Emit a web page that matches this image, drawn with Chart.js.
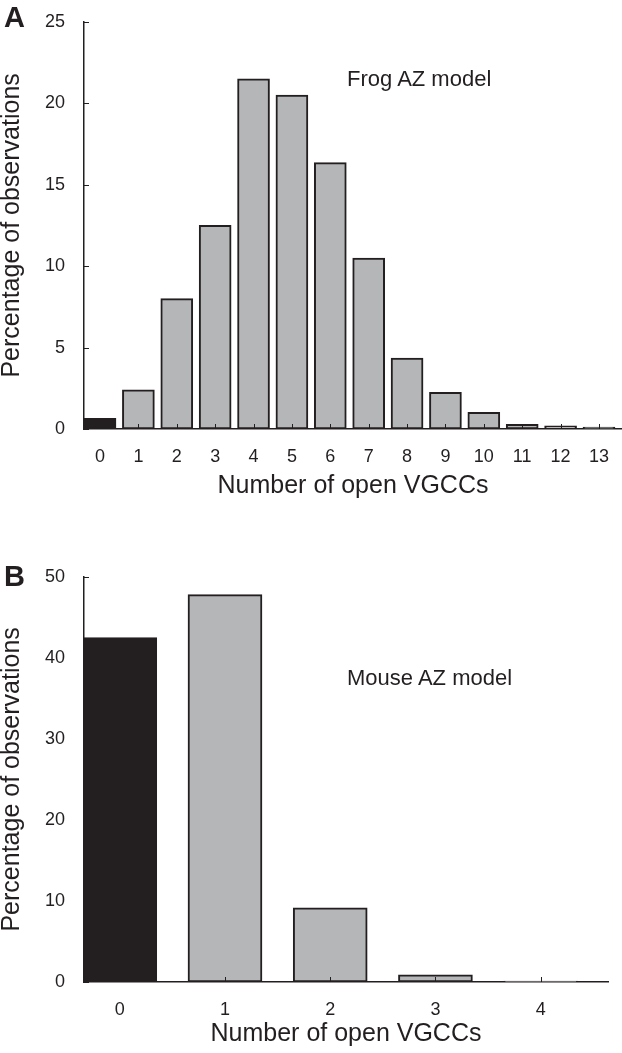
<!DOCTYPE html>
<html>
<head>
<meta charset="utf-8">
<script src="https://cdn.jsdelivr.net/npm/chart.js@4.4.1/dist/chart.umd.min.js"></script>
<style>
  body { margin: 0; background: #fff; width: 622px; height: 1053px; position: relative; overflow: hidden; font-family: "Liberation Sans", Arial, sans-serif; color: #231f20; }
  canvas { position: absolute; left: 0; }
  #chartA { top: 0; }
  #chartB { top: 555px; }
  .txt { position: absolute; white-space: nowrap; }
  .note { font-size: 22px; line-height: 22px; }
  .panel { font-size: 29px; line-height: 29px; font-weight: bold; }
</style>
</head>
<body>
<canvas id="chartA" width="622" height="520"></canvas>
<canvas id="chartB" width="622" height="498"></canvas>
<div class="txt panel" style="left:4px; top:3px;">A</div>
<div class="txt panel" style="left:4px; top:562px;">B</div>
<div class="txt note" style="left:347px; top:68px;">Frog AZ model</div>
<div class="txt note" style="left:347px; top:667px;">Mouse AZ model</div>
<script>
// number of open channels and % of observations
var frogCounts = [0, 1, 2, 3, 4, 5, 6, 7, 8, 9, 10, 11, 12, 13];
var frogPercent = [0.65, 2.4, 8.0, 12.5, 21.5, 20.5, 16.35, 10.5, 4.35, 2.25, 1.03, 0.28, 0.2, 0.12];
var frogTicks = [0, 5, 10, 15, 20, 25];

var mouseCounts = [0, 1, 2, 3, 4];
var mousePercent = [42.5, 47.8, 9.15, 0.9, 0.12];
var mouseTicks = [0, 10, 20, 30, 40, 50];

var xTitle = "Number of open VGCCs";
var yTitle = "Percentage of observations";

var ink = "#231f20";
var grey = "#b5b6b8";

// tick marks pointing into the plot, drawn on top of the bars
var ticksAdentro = {
	id: 'ticksAdentro',
	afterDatasetsDraw: function (chart) {
		var ctx = chart.ctx;
		var xs = chart.scales.x, ys = chart.scales.y;
		var area = chart.chartArea;
		ctx.save();
		ctx.strokeStyle = ink;
		ctx.lineWidth = 1;
		ctx.beginPath();
		xs.ticks.forEach(function (t) {
			var px = Math.round(xs.getPixelForValue(t.value)) + 0.5;
			ctx.moveTo(px, area.bottom);
			ctx.lineTo(px, area.bottom - 5);
		});
		ys.ticks.forEach(function (t) {
			var py = Math.round(ys.getPixelForValue(t.value)) + 0.5;
			ctx.moveTo(area.left, py);
			ctx.lineTo(area.left + 5, py);
		});
		ctx.stroke();
		ctx.restore();
	}
};

var histograma = function (id, counts, values, yticks, opts) {
	var ctx = document.getElementById(id).getContext('2d');
	var puntos = counts.map(function (c, i) { return {x: c, y: values[i]}; });
	var colores = counts.map(function (c) { return c === 0 ? ink : grey; });
	return new Chart(ctx, {
		type: 'bar',
		data: {
			datasets: [{
				data: puntos,
				backgroundColor: colores,
				borderColor: ink,
				borderWidth: 2,
				borderSkipped: false,
				barThickness: opts.barWidth
			}]
		},
		options: {
			responsive: false,
			animation: false,
			devicePixelRatio: 1,
			layout: { padding: { top: opts.top, right: opts.right, bottom: 0, left: 0 } },
			plugins: { legend: { display: false }, tooltip: { enabled: false } },
			scales: {
				x: {
					type: 'linear',
					offset: false,
					min: opts.xmin,
					max: opts.xmax,
					afterBuildTicks: function (scale) {
						scale.ticks = counts.map(function (c) { return {value: c}; });
					},
					afterFit: function (scale) { scale.height = opts.xh; },
					grid: { display: false },
					border: { display: true, color: ink, width: 1.5 },
					ticks: {
						color: ink,
						padding: 9,
						maxRotation: 0,
						autoSkip: false,
						font: { family: "Liberation Sans", size: 18 },
						callback: function (v) { return String(v); }
					},
					title: {
						display: true,
						text: xTitle,
						color: ink,
						font: { family: "Liberation Sans", size: 25, lineHeight: 1.2 },
						padding: { top: 0, bottom: opts.titlePad }
					}
				},
				y: {
					min: 0,
					max: yticks[yticks.length - 1],
					afterBuildTicks: function (scale) {
						scale.ticks = yticks.map(function (v) { return {value: v}; });
					},
					afterFit: function (scale) { scale.width = 84; },
					grid: { display: false },
					border: { display: true, color: ink, width: 1.5 },
					ticks: {
						color: ink,
						padding: 11,
						font: { family: "Liberation Sans", size: 18 }
					},
					title: {
						display: true,
						text: yTitle,
						color: ink,
						font: { family: "Liberation Sans", size: 25, lineHeight: 1 },
						padding: { top: 0, bottom: 0 }
					}
				}
			}
		},
		plugins: [ticksAdentro]
	});
};

histograma('chartA', frogCounts, frogPercent, frogTicks,
	{ barWidth: 32, xmin: -0.417, xmax: 13.6, top: 10, right: 0, xh: 91, titlePad: 19 });
histograma('chartB', mouseCounts, mousePercent, mouseTicks,
	{ barWidth: 74, xmin: -0.34, xmax: 4.64, top: 18, right: 14, xh: 71, titlePad: 4 });
</script>
</body>
</html>
